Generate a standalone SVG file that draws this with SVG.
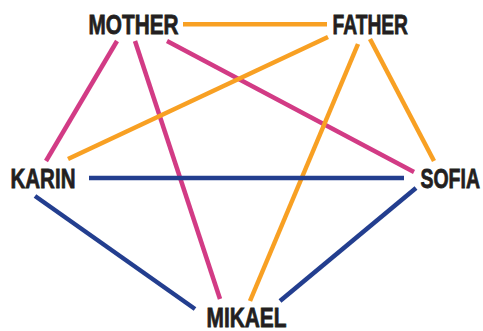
<svg xmlns="http://www.w3.org/2000/svg" width="483" height="331" viewBox="0 0 483 331">
<style>
.l{stroke-width:4.5;fill:none;stroke-linecap:butt}
.p{stroke:#D23B85}
.o{stroke:#F8A023}
.b{stroke:#233E8F}
text{font-family:"Liberation Sans",Arial,sans-serif;font-weight:bold;font-size:28px;fill:#231F20;stroke:#231F20;stroke-width:0.8}
</style>
<rect width="483" height="331" fill="#fff"/>
<g id="connectors">
<line class="l o" x1="183" y1="24.3" x2="327" y2="24.3"/>
<line class="l p" x1="117" y1="41" x2="46" y2="161"/>
<line class="l p" x1="135" y1="41" x2="220" y2="299"/>
<line class="l p" x1="167" y1="41" x2="414" y2="172"/>
<line class="l o" x1="328" y1="37" x2="68" y2="159"/>
<line class="l o" x1="358" y1="44" x2="250" y2="301"/>
<line class="l o" x1="370" y1="39" x2="434" y2="161"/>
<line class="l b" x1="89" y1="178" x2="404" y2="178"/>
<line class="l b" x1="35" y1="196" x2="195" y2="309"/>
<line class="l b" x1="416" y1="188" x2="280" y2="301"/>
</g>
<g id="mother" transform="translate(88.5 33.5) scale(0.742 1)"><text x="0" y="0">MOTHER</text></g>
<g id="father" transform="translate(332.5 33.5) scale(0.687 1)"><text x="0" y="0">FATHER</text></g>
<g id="karin" transform="translate(10.5 187.5) scale(0.733 1)"><text x="0" y="0">KARIN</text></g>
<g id="sofia" transform="translate(420.5 187.5) scale(0.695 1)"><text x="0" y="0">SOFIA</text></g>
<g id="mikael" transform="translate(206.5 326.5) scale(0.746 1)"><text x="0" y="0">MIKAEL</text></g>
</svg>
